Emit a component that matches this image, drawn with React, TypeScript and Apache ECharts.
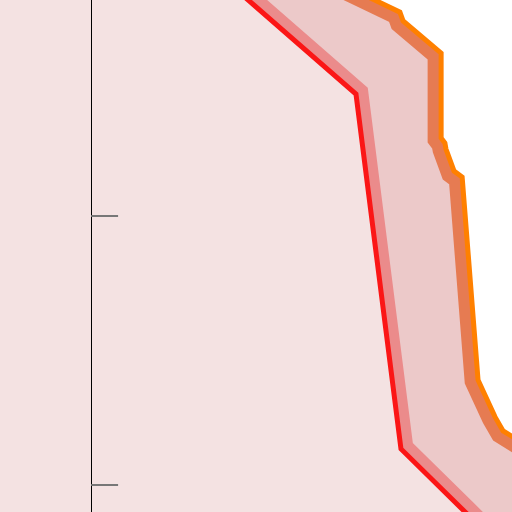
import React, { useEffect, useRef } from "react";
import * as echarts from "echarts";

// Red series (x, y) vertices
const redX = [1.78, 9.83, 11.5, 13.88, 16.29];
const redY = [31.53, 24.51, 11.34, 9.0, 6.62];

// Orange series (x, y) vertices
const orangeX = [9.13, 11.46, 11.58, 12.99, 12.99, 13.13, 13.17, 13.47, 13.77, 14.36, 14.99, 15.29, 16.73];
const orangeY = [28.67, 27.55, 27.22, 26.03, 22.88, 22.69, 22.47, 21.65, 21.43, 13.9, 12.53, 12.01, 11.12];

// Axis extents and tick values
const xRange = [-3.38, 15.62];
const yRange = [9, 28];
const yTickValues = [10, 20];

const COLORS = {
  between: "#ecc9c9",
  left: "#f4e2e2",
  right: "#ffffff",
  redBand: "#eb8b8b",
  orangeBand: "#e67b52",
  red: "#fb1616",
  orange: "#ff8000",
};

const pairs = (xs: number[], ys: number[]) => xs.map((x, i) => [x, ys[i]]);

export default function App() {
  const ref = useRef<HTMLDivElement>(null);

  useEffect(() => {
    if (!ref.current) return;
    const chart = echarts.init(ref.current, undefined, { renderer: "svg" });
    const FAR_LO_X = xRange[0] - 20;
    const FAR_HI_X = xRange[1] + 20;
    const FAR_LO_Y = yRange[0] - 20;
    const FAR_HI_Y = yRange[1] + 20;

    chart.setOption({
      animation: false,
      backgroundColor: COLORS.between,
      grid: { left: 0, right: 0, top: 0, bottom: 0, containLabel: false, outerBoundsMode: "none" },
      xAxis: {
        type: "value",
        min: xRange[0],
        max: xRange[1],
        axisLine: { show: false },
        axisTick: { show: false },
        axisLabel: { show: false },
        splitLine: { show: false },
      },
      yAxis: {
        type: "value",
        min: yRange[0],
        max: yRange[1],
        z: 10,
        axisLine: { show: true, onZero: true, lineStyle: { color: "#000000", width: 1 } },
        axisTick: {
          show: true,
          inside: true,
          length: 27,
          customValues: yTickValues,
          lineStyle: { color: "#777777", width: 2 },
        },
        axisLabel: { show: false },
        splitLine: { show: false },
      },
      series: [
        {
          type: "line",
          z: 2,
          data: pairs(redX, redY),
          showSymbol: false,
          silent: true,
          emphasis: { disabled: true },
          lineStyle: { color: COLORS.redBand, width: 25, join: "miter" },
        },
        {
          type: "line",
          z: 2,
          data: pairs(orangeX, orangeY),
          showSymbol: false,
          silent: true,
          emphasis: { disabled: true },
          lineStyle: { color: COLORS.orangeBand, width: 27, join: "miter" },
        },
        {
          type: "custom",
          z: 3,
          silent: true,
          data: [[0, 20]],
          renderItem: (_params: any, api: any) => {
            const redPts = redX.map((x, i) => api.coord([x, redY[i]]));
            const orPts = orangeX.map((x, i) => api.coord([x, orangeY[i]]));
            const left = [
              ...redPts,
              api.coord([redX[redX.length - 1], FAR_LO_Y]),
              api.coord([FAR_LO_X, FAR_LO_Y]),
              api.coord([FAR_LO_X, redY[0]]),
            ];
            const right = [
              ...orPts,
              api.coord([FAR_HI_X, orangeY[orangeY.length - 1]]),
              api.coord([FAR_HI_X, FAR_HI_Y]),
              api.coord([orangeX[0], FAR_HI_Y]),
            ];
            return {
              type: "group",
              children: [
                { type: "polygon", shape: { points: left }, style: { fill: COLORS.left } },
                { type: "polygon", shape: { points: right }, style: { fill: COLORS.right } },
              ],
            };
          },
        },
        {
          type: "line",
          z: 4,
          data: pairs(redX, redY),
          showSymbol: false,
          silent: true,
          emphasis: { disabled: true },
          lineStyle: { color: COLORS.red, width: 5, join: "miter" },
        },
        {
          type: "line",
          z: 4,
          data: pairs(orangeX, orangeY),
          showSymbol: false,
          silent: true,
          emphasis: { disabled: true },
          lineStyle: { color: COLORS.orange, width: 5, join: "miter" },
        },
      ],
    });
    return () => chart.dispose();
  }, []);

  return (
    <div
      ref={ref}
      style={{ position: "fixed", left: 0, top: 0, width: 512, height: 512 }}
    />
  );
}
